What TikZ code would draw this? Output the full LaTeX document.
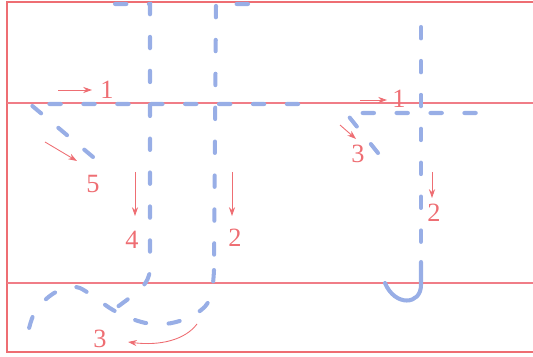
\documentclass[tikz,border=0pt]{standalone}
\usepackage{fontspec}
\setmainfont{Liberation Serif}
\usetikzlibrary{arrows.meta}
\definecolor{flowblue}{RGB}{152,174,230}
\definecolor{markred}{RGB}{238,110,115}
\definecolor{guidepink}{RGB}{240,125,135}
\tikzset{
  flow/.style={flowblue, line width=2.3pt, line cap=round, dash pattern=on 6.5pt off 12.8pt},
  guide/.style={guidepink, line width=0.6pt},
  frame/.style={markred, line width=0.9pt},
  pointer/.style={markred, line width=0.5pt, -{Stealth[length=5pt,width=3.5pt]}},
  num/.style={text=markred, font=\fontsize{15}{17}\selectfont, inner sep=0pt}
}
\begin{document}
\begin{tikzpicture}[x=0.02cm,y=0.02cm]
\useasboundingbox (0,0) rectangle (533,-357);
\draw[frame] (533,-2) -- (7,-2) -- (7,-352) -- (533,-352);
\draw[guide] (7,-103) -- (533,-103);
\draw[guide] (7,-283) -- (533,-283);

\draw[flow] (93,-157) -- (30,-104) -- (308,-104);
\draw[flow] (115,-4) -- (150,-4) -- (150,-268) .. controls (150,-285) and (136,-293) .. (116,-308);
\draw[flow] (248,-4) -- (216,-4) -- (214,-270)
  plot[smooth, tension=0.7] coordinates {(214,-270) (210,-298) (197,-313) (176,-322) (155,-324) (135,-320) (113,-310) (90,-294) (76,-287) (62,-289) (45,-300) (33,-316) (26,-342)};
\draw[flow] (378,-153) -- (346,-113) -- (497,-113);
\draw[flow] (421,-27) -- (421,-262);
\draw[flowblue, line width=2.3pt, line cap=round] (421,-262) -- (421,-285) .. controls (421,-305) and (395,-307) .. (385,-283);

\coordinate (a1s) at (58,-90);  \coordinate (a1e) at (92,-90);
\coordinate (a5s) at (45,-142); \coordinate (a5e) at (77,-161);
\coordinate (a4s) at (135,-172); \coordinate (a4e) at (135,-216);
\coordinate (a2s) at (232,-172); \coordinate (a2e) at (232,-216);
\coordinate (a3s) at (197,-324); \coordinate (a3e) at (128,-342);
\coordinate (b1s) at (360,-100); \coordinate (b1e) at (387,-100);
\coordinate (b3s) at (340,-125); \coordinate (b3e) at (356,-139);
\coordinate (b2s) at (432,-172); \coordinate (b2e) at (432,-198);

\node[num] (n1) at (107,-90) {1};
\node[num] (n5) at (93,-184) {5};
\node[num] (n4) at (132,-240) {4};
\node[num] (n2) at (235,-238) {2};
\node[num] (n3) at (100,-339) {3};
\node[num] (m1) at (399,-99) {1};
\node[num] (m3) at (358,-154) {3};
\node[num] (m2) at (434,-213) {2};

\draw[pointer] (a1s) -- (a1e);
\draw[pointer] (a5s) -- (a5e);
\draw[pointer] (a4s) -- (a4e);
\draw[pointer] (a2s) -- (a2e);
\draw[pointer] (a3s) .. controls (185,-340) and (160,-346) .. (a3e);
\draw[pointer] (b1s) -- (b1e);
\draw[pointer] (b3s) -- (b3e);
\draw[pointer] (b2s) -- (b2e);
\end{tikzpicture}
\end{document}
